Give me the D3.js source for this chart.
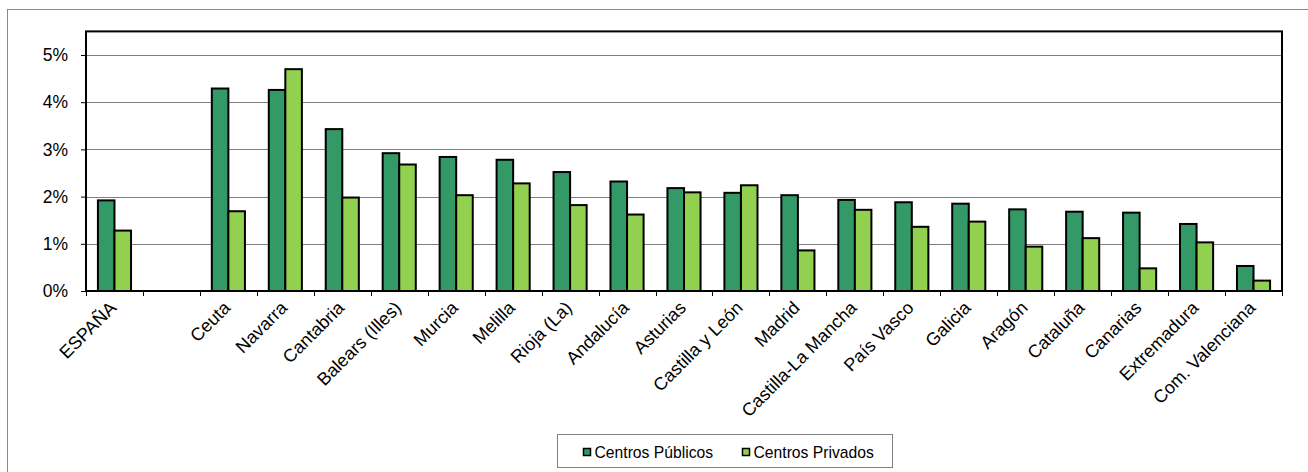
<!DOCTYPE html>
<html>
<head>
<meta charset="utf-8">
<script src="https://cdn.jsdelivr.net/npm/d3@7"></script>
<style>
  html, body { margin: 0; padding: 0; background: #fff; }
  svg { display: block; font-family: "Liberation Sans", Arial, sans-serif; }
</style>
</head>
<body>
<svg id="chart" width="1308" height="472"></svg>
<script>
const categories = ["ESPAÑA", "", "Ceuta", "Navarra", "Cantabria", "Balears (Illes)", "Murcia", "Melilla",
  "Rioja (La)", "Andalucía", "Asturias", "Castilla y León", "Madrid", "Castilla-La Mancha",
  "País Vasco", "Galicia", "Aragón", "Cataluña", "Canarias", "Extremadura", "Com. Valenciana"];
const publicos = [1.92, null, 4.29, 4.26, 3.43, 2.92, 2.84, 2.78, 2.52, 2.32, 2.18, 2.08, 2.03, 1.93,
  1.88, 1.85, 1.73, 1.68, 1.66, 1.42, 0.53];
const privados = [1.28, null, 1.69, 4.70, 1.98, 2.68, 2.03, 2.28, 1.82, 1.62, 2.09, 2.24, 0.86, 1.72,
  1.36, 1.47, 0.94, 1.12, 0.48, 1.03, 0.22];
const seriesNames = ["Centros Públicos", "Centros Privados"];
const seriesColors = ["#339966", "#92D050"];
const yTicks = [0, 1, 2, 3, 4, 5];
const yTickLabels = ["0%", "1%", "2%", "3%", "4%", "5%"];

const svg = d3.select("#chart");
const plot = { left: 86, right: 1282, top: 31.4, bottom: 291 };

// outer chart border
svg.append("rect").attr("x", 7.5).attr("y", 9.5).attr("width", 1400).attr("height", 600)
  .attr("fill", "#fff").attr("stroke", "#8a8a8a").attr("stroke-width", 1);

const x = d3.scaleBand().domain(d3.range(categories.length)).range([plot.left, plot.right]).padding(0);
const y = d3.scaleLinear().domain([0, 5.5]).range([plot.bottom, plot.top]);
const inner = d3.scaleBand().domain([0, 1]).range([0, x.bandwidth()]).paddingInner(0).paddingOuter(0.72);

// gridlines
svg.append("g").selectAll("line").data(yTicks.filter(d => d > 0)).join("line")
  .attr("x1", plot.left).attr("x2", plot.right)
  .attr("y1", d => Math.round(y(d)) + 0.5).attr("y2", d => Math.round(y(d)) + 0.5)
  .attr("stroke", "#808080").attr("stroke-width", 1);

// bars
const series = [publicos, privados];
series.forEach((vals, si) => {
  svg.append("g").selectAll("rect").data(vals.map((v, i) => ({ v, i })).filter(d => d.v != null)).join("rect")
    .attr("x", d => x(d.i) + inner(si))
    .attr("y", d => y(d.v))
    .attr("width", inner.bandwidth())
    .attr("height", d => y(0) - y(d.v))
    .attr("fill", seriesColors[si])
    .attr("stroke", "#000").attr("stroke-width", 2);
});

// plot frame
svg.append("rect").attr("x", plot.left).attr("y", plot.top)
  .attr("width", plot.right - plot.left).attr("height", plot.bottom - plot.top)
  .attr("fill", "none").attr("stroke", "#000").attr("stroke-width", 2);

// y axis
const yAxis = d3.axisLeft(y).tickValues(yTicks).tickFormat((d, i) => yTickLabels[i]).tickSize(5).tickPadding(13);
const gy = svg.append("g").attr("transform", `translate(${plot.left},0)`).call(yAxis)
  .attr("font-family", "Liberation Sans, Arial, sans-serif");
gy.select(".domain").remove();
gy.selectAll(".tick line").attr("stroke", "#000").attr("stroke-width", 1);
gy.selectAll(".tick text").attr("font-size", 17.5).attr("fill", "#000");

// x axis ticks at category boundaries
const boundaries = d3.range(categories.length + 1);
svg.append("g").selectAll("line").data(boundaries).join("line")
  .attr("x1", d => Math.round(plot.left + d * x.step()) + 0.5)
  .attr("x2", d => Math.round(plot.left + d * x.step()) + 0.5)
  .attr("y1", plot.bottom).attr("y2", plot.bottom + 5)
  .attr("stroke", "#000").attr("stroke-width", 1);

// x labels
svg.append("g").selectAll("text").data(categories.map((c, i) => ({ c, i }))).join("text")
  .attr("transform", d => `translate(${x(d.i) + x.bandwidth() / 2 + 3},${309}) rotate(-45)`)
  .attr("text-anchor", "end")
  .attr("font-size", 18).attr("fill", "#000")
  .text(d => d.c);

// legend
const lg = svg.append("g");
lg.append("rect").attr("x", 557.5).attr("y", 434.5).attr("width", 335).attr("height", 33)
  .attr("fill", "#fff").attr("stroke", "#808080").attr("stroke-width", 1);
const legendX = [583, 742];
seriesNames.forEach((name, i) => {
  lg.append("rect").attr("x", legendX[i] + 0.5).attr("y", 448.5).attr("width", 7).attr("height", 7)
    .attr("fill", seriesColors[i]).attr("stroke", "#000").attr("stroke-width", 1.5);
  lg.append("text").attr("x", legendX[i] + 11.5).attr("y", 457.5)
    .attr("font-size", 15.7).attr("fill", "#000").text(name);
});
</script>
</body>
</html>
